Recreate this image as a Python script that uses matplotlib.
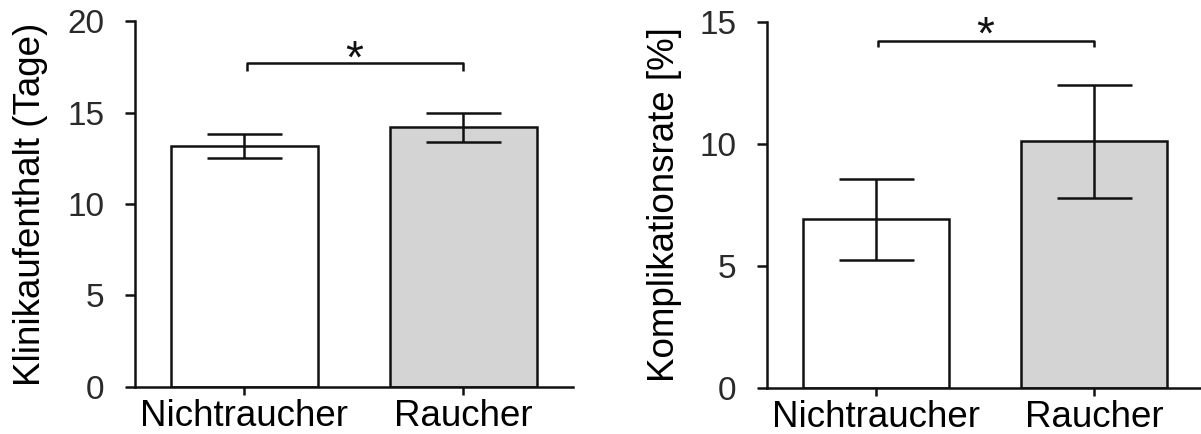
import matplotlib
matplotlib.use("Agg")
import matplotlib.pyplot as plt

plt.rcParams['font.family'] = ['Liberation Sans', 'DejaVu Sans']

categories = ["Nichtraucher", "Raucher"]
stay_values = [13.15, 14.2]
stay_errors = [0.65, 0.8]
comp_values = [6.9, 10.1]
comp_errors = [1.67, 2.3]
stay_ticks = [0, 5, 10, 15, 20]
comp_ticks = [0, 5, 10, 15]
bar_colors = ["white", "#d4d4d4"]

fig = plt.figure(figsize=(12.01, 4.34), dpi=100)
ax1 = fig.add_axes([0.1124, 0.1083, 0.3647, 0.8433])
ax2 = fig.add_axes([0.6386, 0.106, 0.3631, 0.844])

black = "#111111"
gray_txt = "#2a2a2a"
lw = 1.8

def panel(ax, vals, errs, ticks, ylabel, ymax, bracket_y, leg, star_y, label_x):
    x = list(range(len(categories)))
    ax.bar(x, vals, width=0.667, color=bar_colors, edgecolor=black, linewidth=lw, zorder=2)
    ax.errorbar(x, vals, yerr=errs, fmt="none", ecolor=black, elinewidth=lw,
                capsize=27, capthick=lw, zorder=3)
    ax.set_xlim(-0.5, 1.5)
    ax.set_ylim(0, ymax)
    ax.set_yticks(ticks)
    ax.set_xticks(x)
    ax.set_xticklabels(categories)
    ax.set_ylabel(ylabel, fontsize=26.5, color="black")
    ax.yaxis.set_label_coords(label_x, 0.5)
    ax.tick_params(axis="y", labelsize=24, labelcolor=gray_txt, color=black,
                   width=lw, length=7.2, pad=15)
    ax.tick_params(axis="x", labelsize=26.5, labelcolor="black", color=black,
                   width=lw, length=5.8, pad=3)
    for s in ["top", "right"]:
        ax.spines[s].set_visible(False)
    for s in ["left", "bottom"]:
        ax.spines[s].set_linewidth(lw)
        ax.spines[s].set_color(black)
    ax.plot([0.01, 0.01, 1.0, 1.0], [bracket_y - leg, bracket_y, bracket_y, bracket_y - leg],
            color=black, lw=lw, clip_on=False, solid_capstyle="butt")
    ax.text(0.5, star_y, "*", ha="center", va="baseline", fontsize=33, color=black)

panel(ax1, stay_values, stay_errors, stay_ticks, "Klinikaufenthalt (Tage)", 20, 17.7, 0.44, 17.15, -0.199)
panel(ax2, comp_values, comp_errors, comp_ticks, "Komplikationsrate [%]", 15, 14.23, 0.25, 13.88, -0.195)

fig.savefig("out.png", dpi=100)
